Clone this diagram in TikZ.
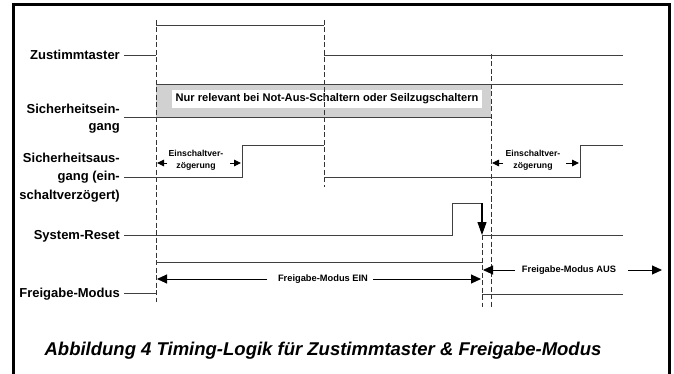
\documentclass[tikz,border=0pt]{standalone}
\usepackage{fontspec}
\setmainfont{Liberation Sans}
\usetikzlibrary{arrows.meta}
\begin{document}
\begin{tikzpicture}[x=1pt,y=-1pt,
  sig/.style={draw=black!75, line width=0.9pt},
  guide/.style={draw=black!80, line width=0.8pt, dash pattern=on 5pt off 2.5pt},
  lbl/.style={font=\bfseries\fontsize{13}{16.5}\selectfont, anchor=east, align=right, inner sep=0pt},
  lblsingle/.style={font=\bfseries\fontsize{13}{16.5}\selectfont, anchor=base east, inner sep=0pt},
  smalltxt/.style={font=\bfseries\fontsize{8.7}{12.5}\selectfont, align=center, inner sep=0pt},
  tagtxt/.style={font=\bfseries\fontsize{9.3}{11}\selectfont, inner sep=0pt},
  arrsmall/.style={-{Triangle[length=7pt,width=6.5pt]}, line width=0.9pt, draw=black},
  arrbig/.style={-{Triangle[length=10pt,width=9pt]}, line width=0.9pt, draw=black},
  arrdown/.style={-{Triangle[length=13pt,width=9pt]}, line width=1.1pt, draw=black},
  frameline/.style={line width=3pt, line join=miter}
]
\useasboundingbox (0,0) rectangle (674,374);

% frame
\draw[frameline] (13.5,374) -- (13.5,4.5) -- (669,4.5) -- (669,374);

% Sicherheitseingang gray region
\fill[black!18] (156,84) rectangle (491,117);
\node[fill=white, minimum width=310pt, minimum height=18pt, inner sep=0pt,
      font=\bfseries\fontsize{11.1}{12}\selectfont] (note) at (327,99)
      {Nur relevant bei Not-Aus-Schaltern oder Seilzugschaltern};

% labels
\node[lblsingle] (lz) at (120,59.5) {Zustimmtaster};
\node[lbl, font=\bfseries\fontsize{13}{17}\selectfont] (lse) at (120,118.5) {Sicherheitsein-\\gang};
\node[lbl, font=\bfseries\fontsize{13}{18.7}\selectfont] (lsa) at (120,177.5) {Sicherheitsaus-\\gang (ein-\\schaltverzögert)};
\node[lblsingle] (lsr) at (120,239.5) {System-Reset};
\node[lblsingle] (lfm) at (120,297.5) {Freigabe-Modus};

% dashed guide lines
\coordinate (d1t) at (156,20);  \coordinate (d1b) at (156,302);
\coordinate (d2t) at (324,20);  \coordinate (d2b) at (324,187);
\coordinate (d3t) at (491,54);  \coordinate (d3b) at (491,307);
\coordinate (d4t) at (482,235); \coordinate (d4b) at (482,307);
\draw[guide] (d1t) -- (d1b);
\draw[guide] (d2t) -- (d2b);
\draw[guide] (d3t) -- (d3b);
\draw[guide] (d4t) -- (d4b);

% Zustimmtaster
\draw[sig] (124,55) -- (156,55);
\draw[sig] (156,25) -- (324,25);
\draw[sig] (324,55) -- (623,55);

% Sicherheitseingang
\draw[sig] (156,84) -- (623,84);
\draw[sig] (124,117) -- (491,117);

% Sicherheitsausgang
\draw[sig] (124,177) -- (242,177) -- (242,145) -- (324,145);
\draw[sig] (324,177) -- (580,177) -- (580,145) -- (623,145);

% Einschaltverzoegerung 1
\node[smalltxt] (ev1) at (196,160.5) {Einschaltver-\\zögerung};
\coordinate (ev1a) at (167,163); \coordinate (ev1at) at (157,163);
\coordinate (ev1b) at (230,163); \coordinate (ev1bt) at (241,163);
\draw[arrsmall] (ev1a) -- (ev1at);
\draw[arrsmall] (ev1b) -- (ev1bt);

% Einschaltverzoegerung 2
\node[smalltxt] (ev2) at (533,160.5) {Einschaltver-\\zögerung};
\coordinate (ev2a) at (503,163); \coordinate (ev2at) at (492,163);
\coordinate (ev2b) at (566,163); \coordinate (ev2bt) at (579,163);
\draw[arrsmall] (ev2a) -- (ev2at);
\draw[arrsmall] (ev2b) -- (ev2bt);

% System-Reset
\draw[sig] (124,235) -- (452,235) -- (452,203) -- (482,203);
\coordinate (rs1) at (482,203); \coordinate (rs2) at (482,235);
\draw[arrdown] (rs1) -- (rs2);
\draw[sig] (482,235) -- (623,235);

% Freigabe-Modus
\draw[sig] (124,293) -- (156,293);
\draw[sig] (156,262) -- (482,262);
\draw[sig] (482,294) -- (623,294);

\node[tagtxt] (fein) at (323,279) {Freigabe-Modus EIN};
\coordinate (fe1) at (267,279); \coordinate (fe1t) at (157,279);
\coordinate (fe2) at (373,279); \coordinate (fe2t) at (481,279);
\draw[arrbig] (fe1) -- (fe1t);
\draw[arrbig] (fe2) -- (fe2t);

\node[tagtxt] (faus) at (569,270) {Freigabe-Modus AUS};
\coordinate (fa1) at (515,270); \coordinate (fa1t) at (483,270);
\coordinate (fa2) at (628,270); \coordinate (fa2t) at (662,270);
\draw[arrbig] (fa1) -- (fa1t);
\draw[arrbig] (fa2) -- (fa2t);

% caption
\node[font=\bfseries\itshape\fontsize{18.5}{22}\selectfont, anchor=base, inner sep=0pt] (cap) at (323,355)
  {Abbildung 4 Timing-Logik für Zustimmtaster \& Freigabe-Modus};
\end{tikzpicture}
\end{document}
